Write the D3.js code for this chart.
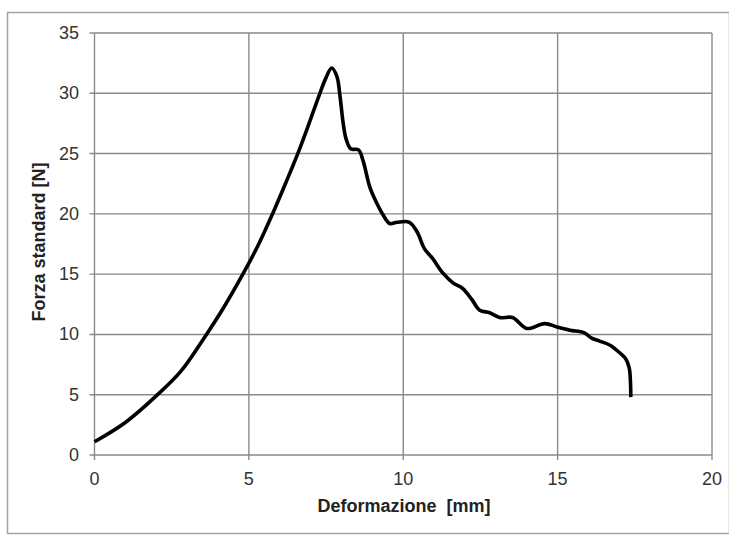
<!DOCTYPE html>
<html>
<head>
<meta charset="utf-8">
<script src="https://cdn.jsdelivr.net/npm/d3@7"></script>
<style>
  body { margin: 0; background: #fff; }
  svg { display: block; font-family: "Liberation Sans", Arial, sans-serif; }
</style>
</head>
<body>
<svg id="chart" width="729" height="536"></svg>
<script>
// Deformazione [mm] (asse x)
const deformazione = [0, 1.0, 2.0, 2.8, 3.6, 4.2, 4.85, 5.3, 5.8, 6.2, 6.6, 6.95, 7.3, 7.5, 7.68, 7.85, 7.95, 8.05, 8.15, 8.3, 8.55, 8.7, 8.92, 9.14, 9.35, 9.56, 9.8, 10.2, 10.45, 10.69, 10.95, 11.28, 11.6, 11.93, 12.22, 12.48, 12.8, 13.12, 13.54, 14.0, 14.58, 15.0, 15.4, 15.85, 16.1, 16.36, 16.7, 17.0, 17.2, 17.32, 17.36, 17.37];
// Forza standard [N] (asse y)
const forza = [1.1, 2.7, 4.9, 6.95, 9.9, 12.3, 15.2, 17.4, 20.2, 22.6, 25.1, 27.5, 30.0, 31.3, 32.1, 31.4, 29.8, 27.6, 26.2, 25.4, 25.3, 24.4, 22.2, 20.9, 19.9, 19.2, 19.3, 19.3, 18.5, 17.1, 16.3, 15.1, 14.3, 13.8, 12.9, 12.0, 11.8, 11.4, 11.4, 10.5, 10.9, 10.6, 10.35, 10.15, 9.7, 9.45, 9.1, 8.5, 8.0, 7.2, 6.0, 4.8];

const xTicks = [0, 5, 10, 15, 20];
const yTicks = [0, 5, 10, 15, 20, 25, 30, 35];

const svg = d3.select("#chart");

// cornice esterna
svg.append("rect")
    .attr("x", 7.5).attr("y", 12.5)
    .attr("width", 722).attr("height", 521)
    .attr("fill", "none")
    .attr("stroke", "#a3a3a3")
    .attr("stroke-width", 1.5);

const x = d3.scaleLinear().domain([0, 20]).range([94.5, 712]);
const y = d3.scaleLinear().domain([0, 35]).range([455, 33]);

const gridColor = "#8a8a8a";

// griglia orizzontale
svg.append("g")
    .selectAll("line")
    .data(yTicks)
    .join("line")
    .attr("x1", x(0) - 5).attr("x2", x(20))
    .attr("y1", d => y(d)).attr("y2", d => y(d))
    .attr("stroke", gridColor)
    .attr("stroke-width", 1.4);

// griglia verticale
svg.append("g")
    .selectAll("line")
    .data(xTicks)
    .join("line")
    .attr("x1", d => x(d)).attr("x2", d => x(d))
    .attr("y1", y(35)).attr("y2", y(0) + 5)
    .attr("stroke", gridColor)
    .attr("stroke-width", 1.4);

// etichette asse y
svg.append("g")
    .selectAll("text")
    .data(yTicks)
    .join("text")
    .attr("x", 79)
    .attr("y", d => y(d) + 6)
    .attr("text-anchor", "end")
    .attr("font-size", 18)
    .attr("fill", "#333")
    .text(d => d);

// etichette asse x
svg.append("g")
    .selectAll("text")
    .data(xTicks)
    .join("text")
    .attr("x", d => x(d))
    .attr("y", 485)
    .attr("text-anchor", "middle")
    .attr("font-size", 18)
    .attr("fill", "#333")
    .text(d => d);

// titoli assi
svg.append("text")
    .attr("x", 404).attr("y", 512)
    .attr("text-anchor", "middle")
    .attr("font-size", 18)
    .attr("font-weight", "bold")
    .attr("fill", "#222")
    .attr("xml:space", "preserve")
    .text("Deformazione  [mm]");

svg.append("text")
    .attr("transform", "translate(45,242) rotate(-90)")
    .attr("text-anchor", "middle")
    .attr("font-size", 18)
    .attr("font-weight", "bold")
    .attr("fill", "#222")
    .text("Forza standard [N]");

// curva
const punti = deformazione.map((d, i) => [d, forza[i]]);
const line = d3.line()
    .x(d => x(d[0]))
    .y(d => y(d[1]))
    .curve(d3.curveCatmullRom.alpha(0.5));

svg.append("path")
    .datum(punti)
    .attr("d", line)
    .attr("fill", "none")
    .attr("stroke", "#000")
    .attr("stroke-width", 3.6)
    .attr("stroke-linejoin", "round");
</script>
</body>
</html>
